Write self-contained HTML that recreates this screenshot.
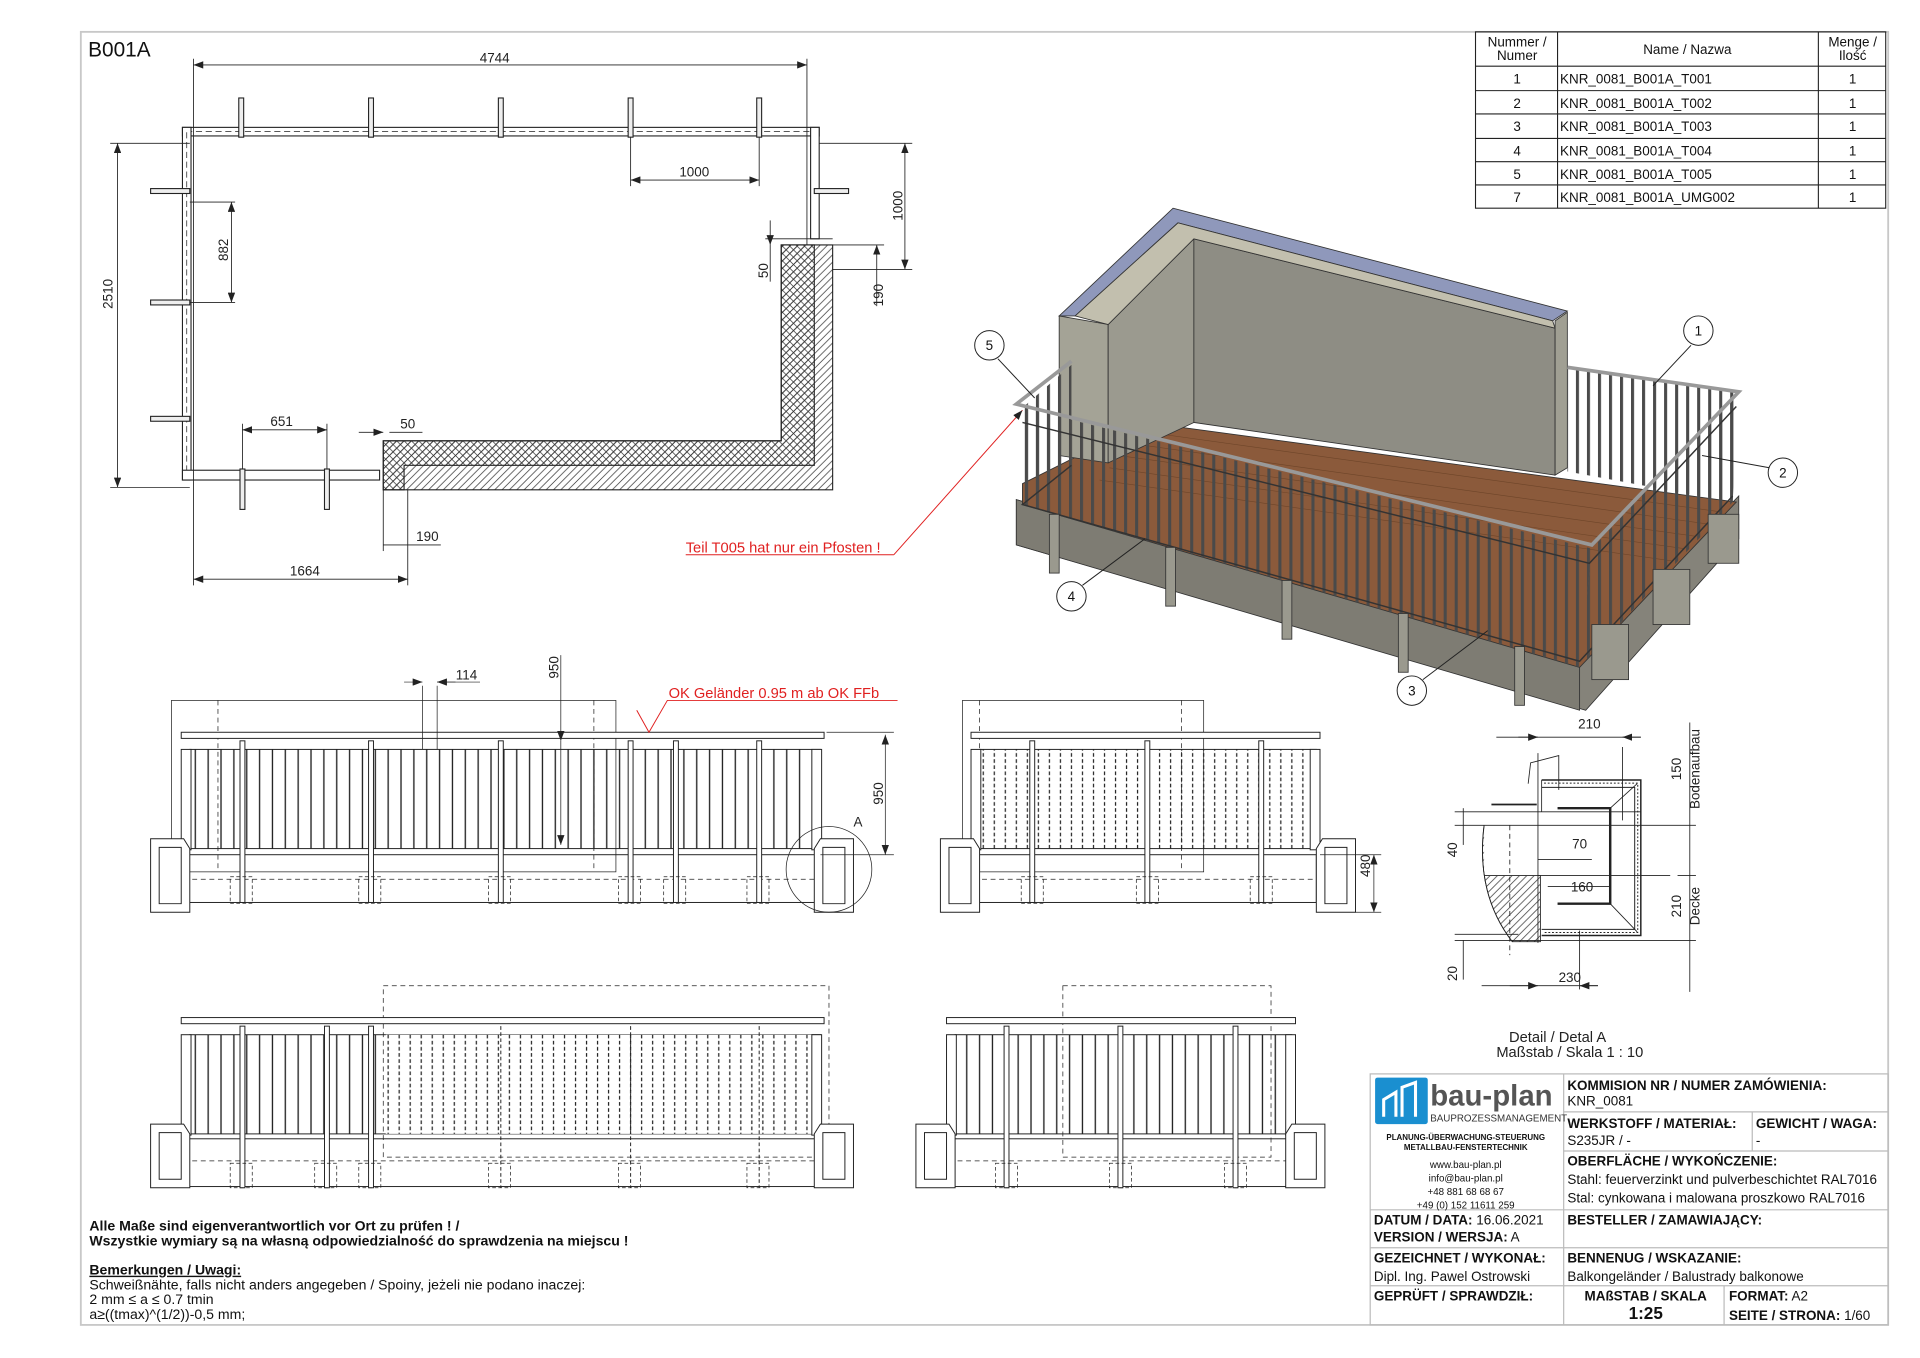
<!DOCTYPE html>
<html><head><meta charset="utf-8"><style>
html,body{margin:0;padding:0;background:#fff}
svg{display:block}
text{font-family:"Liberation Sans",sans-serif}
.d{font-size:11px;fill:#222}
.b{font-weight:bold;font-size:11px;fill:#111}
.n{font-size:11px;fill:#111}
</style></head><body>
<svg width="1920" height="1358" viewBox="0 0 1568 1109" xmlns="http://www.w3.org/2000/svg">
<defs>
<pattern id="bal" width="10.5" height="10" patternUnits="userSpaceOnUse"><line x1="2" y1="0" x2="2" y2="10" stroke="#222" stroke-width="1.1"/></pattern>
<pattern id="bal2" width="9" height="10" patternUnits="userSpaceOnUse"><line x1="2" y1="0" x2="2" y2="10" stroke="#222" stroke-width="1" stroke-dasharray="3,2"/></pattern>
<pattern id="xh" width="6" height="6" patternUnits="userSpaceOnUse"><path d="M0,0L6,6M6,0L0,6" stroke="#333" stroke-width="0.6"/></pattern>
<pattern id="dh" width="6" height="6" patternUnits="userSpaceOnUse"><path d="M0,6L6,0M-1,1L1,-1M5,7L7,5" stroke="#333" stroke-width="0.6"/></pattern>
<pattern id="ibal" width="9" height="10" patternUnits="userSpaceOnUse"><rect x="0" y="0" width="2.5" height="10" fill="#4a4a4a"/></pattern>
<marker id="ar" markerWidth="8" markerHeight="6" refX="8" refY="3" orient="auto-start-reverse" markerUnits="userSpaceOnUse"><path d="M0,0L8,3L0,6z" fill="#222"/></marker>
</defs>
<rect x="66" y="26" width="1476" height="1056" fill="none" stroke="#c8c8c8" stroke-width="1.5"/>
<text x="72" y="46" font-size="17" fill="#111">B001A</text>

<g stroke="#222" stroke-width="0.9" fill="none">
<rect x="1205" y="26" width="335" height="144"/>
<line x1="1272" y1="26" x2="1272" y2="170"/><line x1="1485" y1="26" x2="1485" y2="170"/>
<line x1="1205" y1="54" x2="1540" y2="54"/><line x1="1205" y1="74" x2="1540" y2="74"/><line x1="1205" y1="93" x2="1540" y2="93"/><line x1="1205" y1="113" x2="1540" y2="113"/><line x1="1205" y1="132" x2="1540" y2="132"/><line x1="1205" y1="151" x2="1540" y2="151"/>
</g>
<g class="n" font-size="11.5">
<text x="1239" y="38" text-anchor="middle">Nummer /</text><text x="1239" y="49" text-anchor="middle">Numer</text>
<text x="1378" y="44" text-anchor="middle">Name / Nazwa</text>
<text x="1513" y="38" text-anchor="middle">Menge /</text><text x="1513" y="49" text-anchor="middle">Ilość</text>
<text x="1239" y="68" text-anchor="middle">1</text><text x="1274" y="68">KNR_0081_B001A_T001</text><text x="1513" y="68" text-anchor="middle">1</text>
<text x="1239" y="88" text-anchor="middle">2</text><text x="1274" y="88">KNR_0081_B001A_T002</text><text x="1513" y="88" text-anchor="middle">1</text>
<text x="1239" y="107" text-anchor="middle">3</text><text x="1274" y="107">KNR_0081_B001A_T003</text><text x="1513" y="107" text-anchor="middle">1</text>
<text x="1239" y="127" text-anchor="middle">4</text><text x="1274" y="127">KNR_0081_B001A_T004</text><text x="1513" y="127" text-anchor="middle">1</text>
<text x="1239" y="146" text-anchor="middle">5</text><text x="1274" y="146">KNR_0081_B001A_T005</text><text x="1513" y="146" text-anchor="middle">1</text>
<text x="1239" y="165" text-anchor="middle">7</text><text x="1274" y="165">KNR_0081_B001A_UMG002</text><text x="1513" y="165" text-anchor="middle">1</text>
</g>

<g stroke="#222" stroke-width="0.9" fill="none">
<path d="M313,360 L638,360 L638,200 L680,200 L680,400 L313,400 Z" fill="url(#dh)"/>
<path d="M313,360 L638,360 L638,200 L665,200 L665,380 L330,380 L330,400 L313,400 Z" fill="url(#xh)"/>
<rect x="149" y="104" width="520" height="7" fill="#fff"/>
<line x1="152" y1="107.5" x2="666" y2="107.5" stroke-dasharray="5,3" stroke-width="0.6"/>
<rect x="149" y="104" width="7" height="288" fill="#fff"/>
<line x1="152.5" y1="108" x2="152.5" y2="388" stroke-dasharray="5,3" stroke-width="0.6"/>
<rect x="149" y="384" width="161" height="8" fill="#fff"/>
<rect x="662" y="104" width="7" height="91" fill="#fff"/>
<rect x="195" y="80" width="4" height="32" fill="#eee"/><rect x="301" y="80" width="4" height="32" fill="#eee"/><rect x="407" y="80" width="4" height="32" fill="#eee"/><rect x="513" y="80" width="4" height="32" fill="#eee"/><rect x="618" y="80" width="4" height="32" fill="#eee"/>
<rect x="123" y="154" width="32" height="4" fill="#eee"/><rect x="123" y="245" width="32" height="4" fill="#eee"/><rect x="123" y="340" width="32" height="4" fill="#eee"/>
<rect x="665" y="154" width="28" height="4" fill="#eee"/>
<rect x="196" y="383" width="4" height="33" fill="#eee"/><rect x="265" y="383" width="4" height="33" fill="#eee"/>
<g stroke-width="0.7">
<line x1="158" y1="53" x2="659" y2="53" marker-start="url(#ar)" marker-end="url(#ar)"/>
<line x1="158" y1="48" x2="158" y2="478"/><line x1="659" y1="48" x2="659" y2="200"/>
<line x1="96" y1="117" x2="96" y2="398" marker-start="url(#ar)" marker-end="url(#ar)"/>
<line x1="90" y1="117" x2="155" y2="117"/><line x1="90" y1="398" x2="155" y2="398"/>
<line x1="189" y1="165" x2="189" y2="247" marker-start="url(#ar)" marker-end="url(#ar)"/>
<line x1="155" y1="165" x2="192" y2="165"/><line x1="155" y1="247" x2="192" y2="247"/>
<line x1="515" y1="147" x2="620" y2="147" marker-start="url(#ar)" marker-end="url(#ar)"/>
<line x1="515" y1="112" x2="515" y2="152"/><line x1="620" y1="112" x2="620" y2="152"/>
<line x1="739" y1="117" x2="739" y2="220" marker-start="url(#ar)" marker-end="url(#ar)"/>
<line x1="669" y1="117" x2="745" y2="117"/><line x1="680" y1="220" x2="745" y2="220"/>
<line x1="198" y1="351" x2="267" y2="351" marker-start="url(#ar)" marker-end="url(#ar)"/>
<line x1="198" y1="346" x2="198" y2="383"/><line x1="267" y1="346" x2="267" y2="383"/>
<line x1="293" y1="353" x2="313" y2="353" marker-end="url(#ar)"/><line x1="318" y1="353" x2="345" y2="353"/>
<line x1="313" y1="400" x2="313" y2="450"/><line x1="333" y1="400" x2="333" y2="478"/>
<line x1="313" y1="445" x2="333" y2="445"/><line x1="333" y1="445" x2="360" y2="445"/>
<line x1="158" y1="473" x2="333" y2="473" marker-start="url(#ar)" marker-end="url(#ar)"/>
<line x1="629" y1="180" x2="629" y2="200" marker-end="url(#ar)"/><line x1="629" y1="200" x2="629" y2="230"/>
<line x1="625" y1="195" x2="680" y2="195"/>
<line x1="716" y1="200" x2="716" y2="220" marker-start="url(#ar)"/><line x1="716" y1="220" x2="716" y2="250"/>
<line x1="680" y1="200" x2="722" y2="200"/>
</g>
</g>
<g class="d">
<text x="404" y="51" text-anchor="middle">4744</text>
<text x="567" y="144" text-anchor="middle">1000</text>
<text x="230" y="348" text-anchor="middle">651</text>
<text x="333" y="350" text-anchor="middle">50</text>
<text x="349" y="442" text-anchor="middle">190</text>
<text x="249" y="470" text-anchor="middle">1664</text>
<text transform="translate(92,240) rotate(-90)" text-anchor="middle">2510</text>
<text transform="translate(186,204) rotate(-90)" text-anchor="middle">882</text>
<text transform="translate(737,168) rotate(-90)" text-anchor="middle">1000</text>
<text transform="translate(627,221) rotate(-90)" text-anchor="middle">50</text>
<text transform="translate(721,241) rotate(-90)" text-anchor="middle">190</text>
</g>
<text x="560" y="451" font-size="12" fill="#e02020">Teil T005 hat nur ein Pfosten !</text>
<line x1="560" y1="453" x2="730" y2="453" stroke="#e02020" stroke-width="0.8"/>
<line x1="730" y1="453" x2="835" y2="335" stroke="#e02020" stroke-width="0.8" marker-end="url(#ar)"/>

<!-- ISOMETRIC -->
<g stroke="#333" stroke-width="0.7">
<polygon points="830,408 1290,540 1420,405 1420,440 1295,580 830,445" fill="#85837a"/>
<polygon points="830,408 1290,540 1290,580 830,445" fill="#7e7c73"/>
<polygon points="835,395 935,345 1418,410 1290,545 835,412" fill="#8b5a3b"/>
<path d="M930,352 L1405,418 M922,362 L1395,428 M914,372 L1385,438 M906,382 L1375,448 M898,392 L1365,458" stroke="#6e4529" stroke-width="0.5" fill="none"/>
<polygon points="865,258 905,265 905,378 865,372" fill="#a4a396"/>
<polygon points="905,265 975,195 975,345 905,378" fill="#9b9a8f"/>
<polygon points="975,195 1270,268 1270,388 975,345" fill="#8e8d84"/>
<polygon points="865,258 958,170 1280,254 1268,262 962,182 878,258" fill="#8f98bb"/>
<polygon points="878,258 962,182 1268,262 1270,268 975,195 905,265" fill="#c2bfae"/>
<polygon points="1270,262 1280,255 1280,382 1270,388" fill="#a09f93"/>
<polygon points="1280,300 1420,320 1415,410 1280,385" fill="url(#ibal)" stroke="none"/>
<polygon points="835,333 1300,448 1290,545 835,412" fill="url(#ibal)" stroke="none"/>
<polygon points="1300,448 1420,320 1415,410 1290,545" fill="url(#ibal)" stroke="none"/>
<polygon points="835,333 875,298 875,380 835,412" fill="url(#ibal)" stroke="none"/>
<g fill="none" stroke="#999" stroke-width="3">
<polyline points="875,295 830,330 1300,445 1420,320 1280,300"/>
</g>
<g fill="none" stroke="#333" stroke-width="1.2">
<polyline points="875,380 835,412 1290,540 1415,405"/>
<polyline points="835,345 1298,460 1418,332"/>
</g>
<g fill="#9a998e">
<rect x="857" y="420" width="8" height="48"/><rect x="952" y="447" width="8" height="48"/><rect x="1047" y="474" width="8" height="48"/><rect x="1142" y="501" width="8" height="48"/><rect x="1237" y="528" width="8" height="48"/>
<rect x="1300" y="510" width="30" height="45"/><rect x="1350" y="465" width="30" height="45"/><rect x="1395" y="420" width="25" height="40"/>
</g>
</g>
<g stroke="#222" stroke-width="0.8" fill="#fff">
<line x1="1381" y1="282" x2="1350" y2="315"/><line x1="1445" y1="382" x2="1390" y2="372"/><line x1="1162" y1="555" x2="1215" y2="515"/><line x1="884" y1="478" x2="935" y2="440"/><line x1="815" y1="293" x2="845" y2="325"/>
<circle cx="1387" cy="270" r="12"/><circle cx="1456" cy="386" r="12"/><circle cx="1153" cy="564" r="12"/><circle cx="875" cy="487" r="12"/><circle cx="808" cy="282" r="12"/>
</g>
<g class="n" text-anchor="middle"><text x="1387" y="274">1</text><text x="1456" y="390">2</text><text x="1153" y="568">3</text><text x="875" y="491">4</text><text x="808" y="286">5</text></g>

<!-- ELEVATION 1 -->
<g stroke="#222" stroke-width="0.8" fill="none">
<rect x="140" y="572" width="363" height="140" stroke-width="0.6"/>
<line x1="178" y1="572" x2="178" y2="712" stroke-dasharray="4,3" stroke-width="0.6"/><line x1="485" y1="572" x2="485" y2="712" stroke-dasharray="4,3" stroke-width="0.6"/>
<rect x="148" y="598" width="525" height="5" fill="#fff"/>
<rect x="155" y="612" width="515" height="81" fill="url(#bal)"/>
<rect x="148" y="612" width="8" height="82" fill="#fff"/><rect x="663" y="612" width="8" height="82" fill="#fff"/>
<rect x="150" y="698" width="520" height="39"/>
<line x1="150" y1="718" x2="670" y2="718" stroke-dasharray="4,3" stroke-width="0.6"/>
<path d="M123,685 L150,685 L155,693 L155,745 L123,745 Z" fill="#fff"/><path d="M130,692 L148,692 L148,738 L130,738Z"/>
<path d="M697,685 L670,685 L665,693 L665,745 L697,745 Z" fill="#fff"/><path d="M690,692 L672,692 L672,738 L690,738Z"/>
<g fill="#fff"><rect x="196" y="605" width="4" height="132"/><rect x="301" y="605" width="4" height="132"/><rect x="407" y="605" width="4" height="132"/><rect x="513" y="605" width="4" height="132"/><rect x="550" y="605" width="4" height="132"/><rect x="618" y="605" width="4" height="132"/></g>
<g stroke-dasharray="3,2" stroke-width="0.6"><rect x="188" y="716" width="18" height="22"/><rect x="293" y="716" width="18" height="22"/><rect x="399" y="716" width="18" height="22"/><rect x="505" y="716" width="18" height="22"/><rect x="542" y="716" width="18" height="22"/><rect x="610" y="716" width="18" height="22"/></g>
<circle cx="677" cy="710" r="35" stroke-width="0.6"/>
<g stroke-width="0.6">
<line x1="345" y1="560" x2="345" y2="612"/><line x1="357" y1="560" x2="357" y2="612"/>
<line x1="330" y1="557" x2="345" y2="557" marker-end="url(#ar)"/><line x1="372" y1="557" x2="357" y2="557" marker-end="url(#ar)"/><line x1="357" y1="557" x2="392" y2="557"/>
<line x1="458" y1="535" x2="458" y2="605" marker-end="url(#ar)"/><line x1="458" y1="605" x2="458" y2="690" marker-end="url(#ar)"/>
<line x1="723" y1="600" x2="723" y2="698" marker-start="url(#ar)" marker-end="url(#ar)"/>
<line x1="675" y1="598" x2="730" y2="598"/><line x1="670" y1="698" x2="730" y2="698"/>
</g>
</g>
<polyline points="520,580 530,598 545,572 733,572" fill="none" stroke="#e02020" stroke-width="0.8"/>
<text x="546" y="570" font-size="12" fill="#e02020">OK Geländer 0.95 m ab OK FFb</text>
<g class="d"><text x="381" y="555" text-anchor="middle">114</text><text transform="translate(456,545) rotate(-90)" text-anchor="middle">950</text><text transform="translate(721,648) rotate(-90)" text-anchor="middle">950</text><text x="697" y="675">A</text></g>

<!-- ELEVATION 2 -->
<g stroke="#222" stroke-width="0.8" fill="none">
<rect x="786" y="572" width="197" height="140" stroke-width="0.6"/>
<line x1="800" y1="572" x2="800" y2="712" stroke-dasharray="4,3" stroke-width="0.6"/><line x1="965" y1="572" x2="965" y2="712" stroke-dasharray="4,3" stroke-width="0.6"/>
<rect x="793" y="598" width="285" height="5" fill="#fff"/>
<rect x="800" y="612" width="275" height="81" fill="url(#bal2)"/>
<rect x="793" y="612" width="8" height="82" fill="#fff"/><rect x="1070" y="612" width="8" height="82" fill="#fff"/>
<rect x="795" y="698" width="280" height="39"/>
<line x1="795" y1="718" x2="1075" y2="718" stroke-dasharray="4,3" stroke-width="0.6"/>
<path d="M768,685 L795,685 L800,693 L800,745 L768,745 Z" fill="#fff"/><path d="M775,692 L793,692 L793,738 L775,738Z"/>
<path d="M1107,685 L1080,685 L1075,693 L1075,745 L1107,745 Z" fill="#fff"/><path d="M1100,692 L1082,692 L1082,738 L1100,738Z"/>
<g fill="#fff"><rect x="841" y="605" width="4" height="132"/><rect x="935" y="605" width="4" height="132"/><rect x="1028" y="605" width="4" height="132"/></g>
<g stroke-dasharray="3,2" stroke-width="0.6"><rect x="834" y="716" width="18" height="22"/><rect x="928" y="716" width="18" height="22"/><rect x="1021" y="716" width="18" height="22"/></g>
<line x1="1122" y1="698" x2="1122" y2="745" stroke-width="0.6" marker-start="url(#ar)" marker-end="url(#ar)"/>
<line x1="1107" y1="745" x2="1128" y2="745" stroke-width="0.6"/><line x1="1078" y1="698" x2="1128" y2="698" stroke-width="0.6"/>
</g>
<text class="d" transform="translate(1119,707) rotate(-90)" text-anchor="middle">480</text>

<!-- ELEVATION 3 -->
<g stroke="#222" stroke-width="0.8" fill="none">
<rect x="313" y="805" width="364" height="140" stroke-width="0.6" stroke-dasharray="4,3"/>
<rect x="148" y="831" width="525" height="5" fill="#fff"/>
<rect x="155" y="845" width="515" height="81" fill="url(#bal)"/>
<rect x="315" y="845" width="355" height="81" fill="#fff" stroke="none"/>
<rect x="315" y="845" width="355" height="81" fill="url(#bal2)" stroke="none"/>
<rect x="148" y="845" width="8" height="82" fill="#fff"/><rect x="663" y="845" width="8" height="82" fill="#fff"/>
<rect x="150" y="930" width="520" height="39"/>
<line x1="150" y1="948" x2="670" y2="948" stroke-dasharray="4,3" stroke-width="0.6"/>
<path d="M123,918 L150,918 L155,926 L155,970 L123,970 Z" fill="#fff"/><path d="M130,925 L148,925 L148,963 L130,963Z"/>
<path d="M697,918 L670,918 L665,926 L665,970 L697,970 Z" fill="#fff"/><path d="M690,925 L672,925 L672,963 L690,963Z"/>
<g fill="#fff"><rect x="196" y="838" width="4" height="132"/><rect x="265" y="838" width="4" height="132"/><rect x="301" y="838" width="4" height="132"/></g>
<g stroke-dasharray="3,2"><line x1="409" y1="838" x2="409" y2="970"/><line x1="515" y1="838" x2="515" y2="970"/><line x1="620" y1="838" x2="620" y2="970"/></g>
<g stroke-dasharray="3,2" stroke-width="0.6"><rect x="188" y="950" width="18" height="20"/><rect x="257" y="950" width="18" height="20"/><rect x="293" y="950" width="18" height="20"/><rect x="399" y="950" width="18" height="20"/><rect x="505" y="950" width="18" height="20"/><rect x="610" y="950" width="18" height="20"/></g>
</g>

<!-- ELEVATION 4 -->
<g stroke="#222" stroke-width="0.8" fill="none">
<rect x="868" y="805" width="170" height="140" stroke-width="0.6" stroke-dasharray="4,3"/>
<rect x="773" y="831" width="285" height="5" fill="#fff"/>
<rect x="780" y="845" width="275" height="81" fill="url(#bal)"/>
<rect x="773" y="845" width="8" height="82" fill="#fff"/><rect x="1050" y="845" width="8" height="82" fill="#fff"/>
<rect x="775" y="930" width="280" height="39"/>
<line x1="775" y1="948" x2="1055" y2="948" stroke-dasharray="4,3" stroke-width="0.6"/>
<path d="M748,918 L775,918 L780,926 L780,970 L748,970 Z" fill="#fff"/><path d="M755,925 L773,925 L773,963 L755,963Z"/>
<path d="M1082,918 L1055,918 L1050,926 L1050,970 L1082,970 Z" fill="#fff"/><path d="M1075,925 L1057,925 L1057,963 L1075,963Z"/>
<g fill="#fff"><rect x="820" y="838" width="4" height="132"/><rect x="913" y="838" width="4" height="132"/><rect x="1007" y="838" width="4" height="132"/></g>
<g stroke-dasharray="3,2" stroke-width="0.6"><rect x="813" y="950" width="18" height="20"/><rect x="906" y="950" width="18" height="20"/><rect x="1000" y="950" width="18" height="20"/></g>
</g>

<!-- DETAIL A -->
<g stroke="#222" stroke-width="0.7" fill="none">
<path d="M1259,637 L1340,637 L1340,764 L1259,764" stroke-width="1.2"/>
<path d="M1261,639.5 L1337.5,639.5 L1337.5,761.5 L1261,761.5" stroke-width="0.8" stroke-dasharray="1.5,1.5"/>
<path d="M1259,643 L1335,643 L1335,759 L1259,759" stroke-width="0.8"/>
<path d="M1272,660 L1315,660 L1315,738 L1272,738" stroke-width="2"/>
<line x1="1315" y1="660" x2="1337" y2="640"/><line x1="1315" y1="738" x2="1337" y2="761"/>
<line x1="1259" y1="637" x2="1259" y2="663"/>
<path d="M1212,674 Q1205,730 1235,769 L1258,769 L1258,715 L1212,715" fill="url(#dh)"/>
<path d="M1212,674 Q1205,730 1235,769"/>
<line x1="1233" y1="674" x2="1233" y2="780" stroke-dasharray="4,3"/>
<line x1="1256" y1="615" x2="1256" y2="770"/><line x1="1325" y1="610" x2="1325" y2="670"/>
<path d="M1248,640 L1250,623 L1273,617 L1273,645" /><line x1="1218" y1="657" x2="1255" y2="657" stroke-width="1.5"/>
<line x1="1222" y1="602" x2="1340" y2="602"/>
<line x1="1240" y1="602" x2="1256" y2="602" marker-end="url(#ar)"/><line x1="1340" y1="602" x2="1325" y2="602" marker-end="url(#ar)"/>
<line x1="1300" y1="702" x2="1256" y2="702" /><line x1="1256" y1="715" x2="1364" y2="715"/>
<line x1="1264" y1="724" x2="1315" y2="724"/>
<line x1="1210" y1="805" x2="1305" y2="805"/><line x1="1233" y1="805" x2="1256" y2="805" marker-end="url(#ar)"/><line x1="1305" y1="805" x2="1290" y2="805" marker-end="url(#ar)"/>
<line x1="1290" y1="760" x2="1290" y2="808"/>
<line x1="1195" y1="660" x2="1195" y2="690"/><line x1="1188" y1="663" x2="1340" y2="663"/><line x1="1188" y1="674" x2="1385" y2="674"/>
<line x1="1195" y1="768" x2="1195" y2="800"/><line x1="1188" y1="768" x2="1385" y2="768"/><line x1="1188" y1="763" x2="1240" y2="763"/>
<line x1="1380" y1="590" x2="1380" y2="810"/>
<line x1="1370" y1="715" x2="1385" y2="715"/>
</g>
<g class="d">
<text x="1298" y="595" text-anchor="middle">210</text>
<text x="1290" y="693" text-anchor="middle">70</text>
<text x="1292" y="728" text-anchor="middle">160</text>
<text x="1282" y="802" text-anchor="middle">230</text>
<text transform="translate(1190,694) rotate(-90)" text-anchor="middle">40</text>
<text transform="translate(1190,795) rotate(-90)" text-anchor="middle">20</text>
<text transform="translate(1373,628) rotate(-90)" text-anchor="middle">150</text>
<text transform="translate(1388,628) rotate(-90)" text-anchor="middle">Bodenaufbau</text>
<text transform="translate(1373,740) rotate(-90)" text-anchor="middle">210</text>
<text transform="translate(1388,740) rotate(-90)" text-anchor="middle">Decke</text>
<text x="1272" y="851" text-anchor="middle" font-size="12">Detail / Detal A</text>
<text x="1282" y="863" text-anchor="middle" font-size="12">Maßstab / Skala 1 : 10</text>
</g>

<!-- TITLE BLOCK -->
<g stroke="#bbb" stroke-width="1" fill="none">
<rect x="1119" y="877" width="423" height="205"/>
<line x1="1277" y1="877" x2="1277" y2="1082"/>
<line x1="1277" y1="908" x2="1542" y2="908"/><line x1="1277" y1="940" x2="1542" y2="940"/><line x1="1431" y1="908" x2="1431" y2="940"/>
<line x1="1119" y1="988" x2="1542" y2="988"/><line x1="1119" y1="1019" x2="1542" y2="1019"/><line x1="1119" y1="1050" x2="1542" y2="1050"/>
<line x1="1408" y1="1050" x2="1408" y2="1082"/>
</g>
<rect x="1123" y="880" width="43" height="38" fill="#1a8fd0" rx="2"/>
<path d="M1130,912 L1130,898 L1140,892 L1140,912 M1145,912 L1145,888 L1156,884 L1156,912" stroke="#fff" stroke-width="2.5" fill="none"/>
<text x="1168" y="903" font-size="24" font-weight="bold" fill="#555">bau-plan</text>
<text x="1168" y="916" font-size="8" fill="#333">BAUPROZESSMANAGEMENT</text>
<g font-size="6.5" fill="#111" text-anchor="middle">
<text x="1197" y="931" font-weight="bold">PLANUNG-ÜBERWACHUNG-STEUERUNG</text>
<text x="1197" y="939" font-weight="bold">METALLBAU-FENSTERTECHNIK</text>
<text x="1197" y="954" font-size="8">www.bau-plan.pl</text>
<text x="1197" y="965" font-size="8">info@bau-plan.pl</text>
<text x="1197" y="976" font-size="8">+48 881 68  68 67</text>
<text x="1197" y="987" font-size="8">+49 (0) 152 11611 259</text>
</g>
<g font-size="11" fill="#111">
<text x="1280" y="890" class="b">KOMMISION NR / NUMER ZAMÓWIENIA:</text>
<text x="1280" y="903">KNR_0081</text>
<text x="1280" y="921" class="b">WERKSTOFF / MATERIAŁ:</text><text x="1434" y="921" class="b">GEWICHT / WAGA:</text>
<text x="1280" y="935">S235JR / -</text><text x="1434" y="935">-</text>
<text x="1280" y="952" class="b">OBERFLÄCHE / WYKOŃCZENIE:</text>
<text x="1280" y="967">Stahl: feuerverzinkt und pulverbeschichtet RAL7016</text>
<text x="1280" y="982">Stal: cynkowana i malowana proszkowo RAL7016</text>
<text x="1122" y="1000"><tspan font-weight="bold">DATUM / DATA:</tspan> 16.06.2021</text>
<text x="1122" y="1014"><tspan font-weight="bold">VERSION / WERSJA:</tspan> A</text>
<text x="1280" y="1000" class="b">BESTELLER / ZAMAWIAJĄCY:</text>
<text x="1122" y="1031" class="b">GEZEICHNET / WYKONAŁ:</text>
<text x="1122" y="1046">Dipl. Ing. Pawel Ostrowski</text>
<text x="1280" y="1031" class="b">BENNENUG / WSKAZANIE:</text>
<text x="1280" y="1046">Balkongeländer / Balustrady balkonowe</text>
<text x="1122" y="1062" class="b">GEPRÜFT / SPRAWDZIŁ:</text>
<text x="1344" y="1062" class="b" text-anchor="middle">MAßSTAB / SKALA</text>
<text x="1344" y="1077" font-weight="bold" font-size="14" text-anchor="middle">1:25</text>
<text x="1412" y="1062"><tspan font-weight="bold">FORMAT:</tspan> A2</text>
<text x="1412" y="1078"><tspan font-weight="bold">SEITE / STRONA:</tspan> 1/60</text>
</g>

<g font-size="11.5" fill="#111">
<text x="73" y="1005" font-weight="bold">Alle Maße sind eigenverantwortlich vor Ort zu prüfen ! /</text>
<text x="73" y="1017" font-weight="bold">Wszystkie wymiary są na własną odpowiedzialność do sprawdzenia na miejscu !</text>
<text x="73" y="1041" font-weight="bold" text-decoration="underline">Bemerkungen / Uwagi:</text>
<text x="73" y="1053">Schweißnähte, falls nicht anders angegeben / Spoiny, jeżeli nie podano inaczej:</text>
<text x="73" y="1065">2  mm ≤ a ≤ 0.7 tmin</text>
<text x="73" y="1077">a≥((tmax)^(1/2))-0,5 mm;</text>
</g>
</svg>
</body></html>
